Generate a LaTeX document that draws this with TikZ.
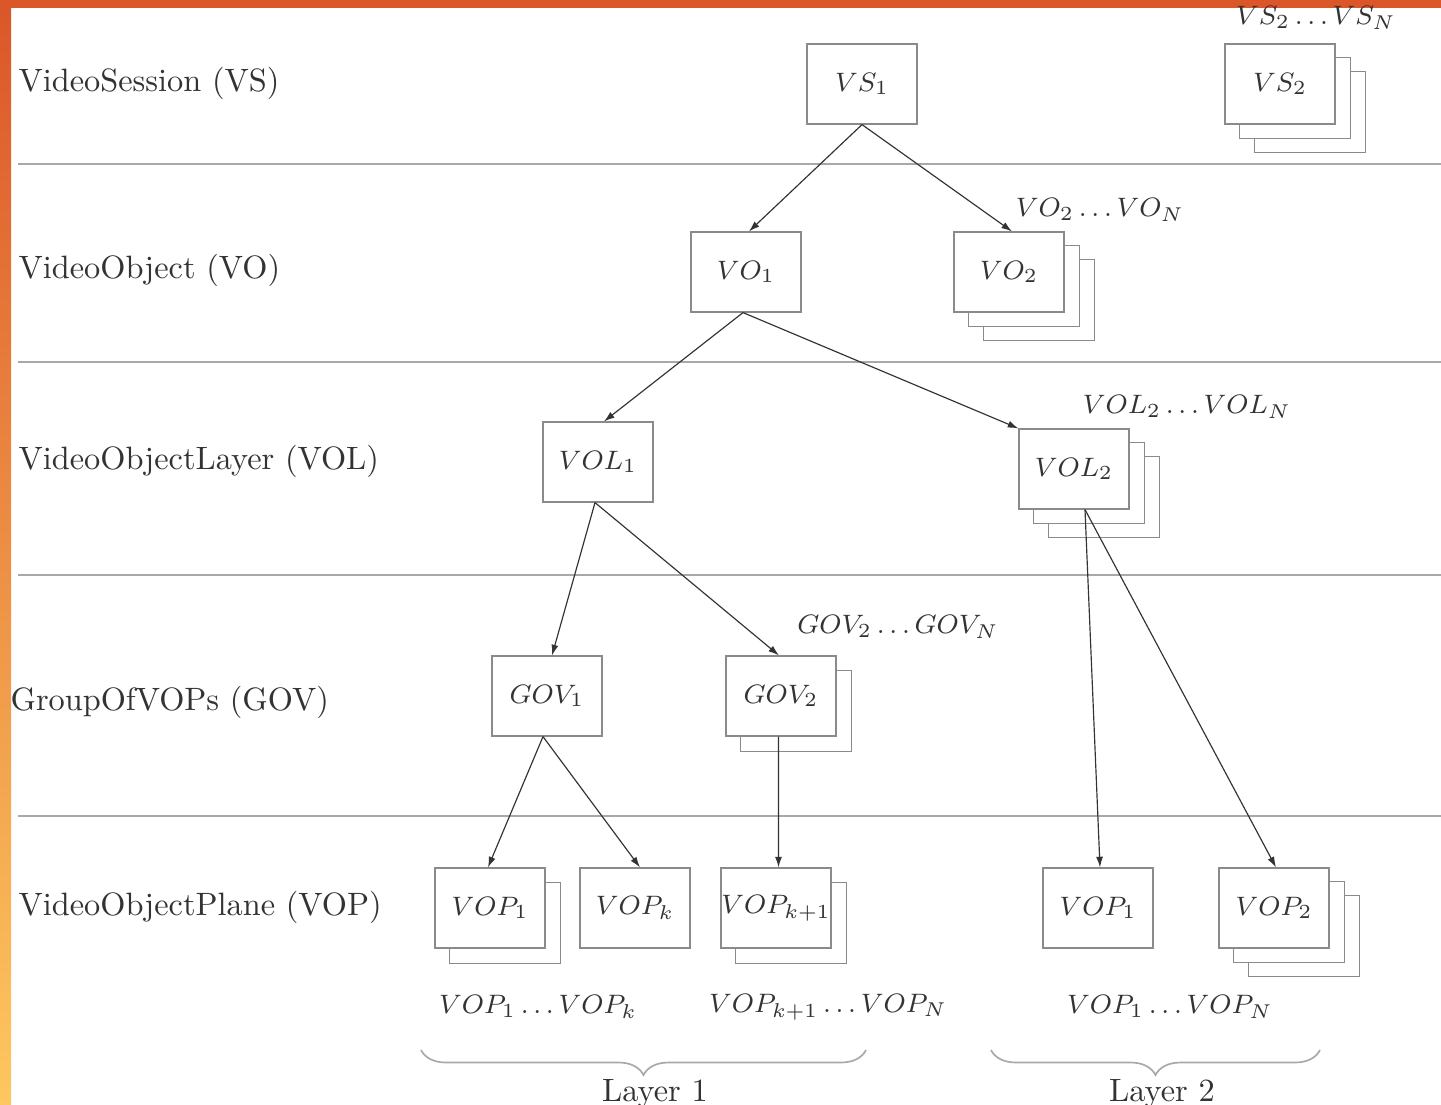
\documentclass[tikz,border=0pt]{standalone}
\usetikzlibrary{arrows.meta,decorations.pathreplacing}
\definecolor{framered}{HTML}{DB5629}
\definecolor{frameyellow}{HTML}{FEC75F}
\definecolor{boxgray}{HTML}{8A8A8A}
\definecolor{rulegray}{HTML}{A8A8A8}
\definecolor{inkgray}{HTML}{333333}
\pgfdeclarelayer{page}
\pgfdeclarelayer{stack}
\pgfsetlayers{page,stack,main}
\newcommand\stackcopy[2]{%
  \draw[backbox] ([shift={#2}]#1.south west) rectangle ([shift={#2}]#1.north east);}
\begin{document}
\begin{tikzpicture}[x=0.3pt,y=-0.3pt,
  box/.style={draw=boxgray,line width=0.35pt,fill=white,minimum width=33pt,
    minimum height=24pt,inner sep=0pt,text=inkgray,font=\fontsize{8.1}{10}\selectfont},
  backbox/.style={draw=boxgray,line width=0.35pt,fill=white},
  rowlabel/.style={anchor=base west,inner sep=0pt,text=inkgray,font=\fontsize{9.7}{12}\selectfont},
  setlabel/.style={inner sep=0pt,text=inkgray,font=\fontsize{8.1}{10}\selectfont},
  layerrule/.style={draw=rulegray,line width=0.5pt},
  link/.style={draw=inkgray,line width=0.35pt,-{Latex[length=3.2pt,width=2.1pt]}},
  bracket/.style={draw=rulegray,line width=0.5pt,decorate,
    decoration={brace,mirror,amplitude=7.5pt}}]

% page: white sheet with orange frame on top and left
\begin{pgfonlayer}{page}
  \fill[white] (0,0) rectangle (1441,1104);
  \shade[top color=framered,bottom color=frameyellow] (0,0) rectangle (11,1104);
  \fill[framered] (0,0) rectangle (1441,8);
\end{pgfonlayer}
\useasboundingbox (0,0) rectangle (1441,1104);

% level separators
\foreach \y in {164,362,575,816}
  \draw[layerrule] (18,\y) -- (1441,\y);

% level names
\node[rowlabel] (lvs)  at (18,91)  {VideoSession (VS)};
\node[rowlabel] (lvo)  at (18,278) {VideoObject (VO)};
\node[rowlabel] (lvol) at (18,469) {VideoObjectLayer (VOL)};
\node[rowlabel] (lgov) at (10,710) {GroupOfVOPs (GOV)};
\node[rowlabel] (lvop) at (18,915) {VideoObjectPlane (VOP)};

% objects
\node[box] (vs1)  at (862,84)   {$VS_1$};
\node[box] (vs2)  at (1280,84)  {$VS_2$};
\node[box] (vo1)  at (746,272)  {$VO_1$};
\node[box] (vo2)  at (1009,272) {$VO_2$};
\node[box] (vol1) at (598,462)  {$VOL_1$};
\node[box] (vol2) at (1074,469) {$VOL_2$};
\node[box] (gov1) at (547,696)  {$GOV_1$};
\node[box] (gov2) at (781,696)  {$GOV_2$};
\node[box] (vopa) at (490,908)  {$VOP_1$};
\node[box] (vopk) at (635,908)  {$VOP_k$};
\node[box] (vopl) at (776,908)  {$VOP_{k+1}$};
\node[box] (vopb) at (1098,908) {$VOP_1$};
\node[box] (vopc) at (1274,908) {$VOP_2$};

% stacked copies behind the front boxes
\begin{pgfonlayer}{stack}
  \foreach \n in {vs2,vo2,vol2,vopc} {
    \stackcopy{\n}{(30,28)}
    \stackcopy{\n}{(15,14)}
  }
  \foreach \n in {gov2,vopa,vopl} {
    \stackcopy{\n}{(15,15)}
  }
\end{pgfonlayer}

% set labels
\node[setlabel] (svs)  at (1316,18)  {$VS_2\ldots VS_N$};
\node[setlabel] (svo)  at (1100,210) {$VO_2\ldots VO_N$};
\node[setlabel] (svol) at (1187,407) {$VOL_2\ldots VOL_N$};
\node[setlabel] (sgov) at (898,627)  {$GOV_2\ldots GOV_N$};
\node[setlabel] (sva)  at (538,1007) {$VOP_1\ldots VOP_k$};
\node[setlabel] (svb)  at (828,1007) {$VOP_{k+1}\ldots VOP_N$};
\node[setlabel] (svc)  at (1170,1007) {$VOP_1\ldots VOP_N$};

% hierarchy links
\draw[link] (vs1.south) -- ([shift={(3,0)}]vo1.north);
\draw[link] (vs1.south) -- ([shift={(3,0)}]vo2.north);
\draw[link] ([shift={(-3,0)}]vo1.south) -- ([shift={(6,0)}]vol1.north);
\draw[link] ([shift={(-3,0)}]vo1.south) -- (vol2.north west);
\draw[link] ([shift={(-3,0)}]vol1.south) -- ([shift={(5,0)}]gov1.north);
\draw[link] ([shift={(-3,0)}]vol1.south) -- ([shift={(-2,0)}]gov2.north);
\draw[link] ([shift={(11,0)}]vol2.south) -- ([shift={(2,0)}]vopb.north);
\draw[link] ([shift={(11,0)}]vol2.south) -- ([shift={(2,0)}]vopc.north);
\draw[link] ([shift={(-4,0)}]gov1.south) -- ([shift={(-2,0)}]vopa.north);
\draw[link] ([shift={(-4,0)}]gov1.south) -- ([shift={(5,0)}]vopk.north);
\draw[link] ([shift={(-2.5,0)}]gov2.south) -- ([shift={(2.5,0)}]vopl.north);

% layer braces
\coordinate (b1l) at (421,1050);
\coordinate (b1r) at (866,1050);
\coordinate (b2l) at (991,1050);
\coordinate (b2r) at (1320,1050);
\draw[bracket] (b1l) -- (b1r);
\draw[bracket] (b2l) -- (b2r);
\node[rowlabel,anchor=base] (lay1) at (655,1101) {Layer 1};
\node[rowlabel,anchor=base] (lay2) at (1162,1101) {Layer 2};
\end{tikzpicture}
\end{document}
